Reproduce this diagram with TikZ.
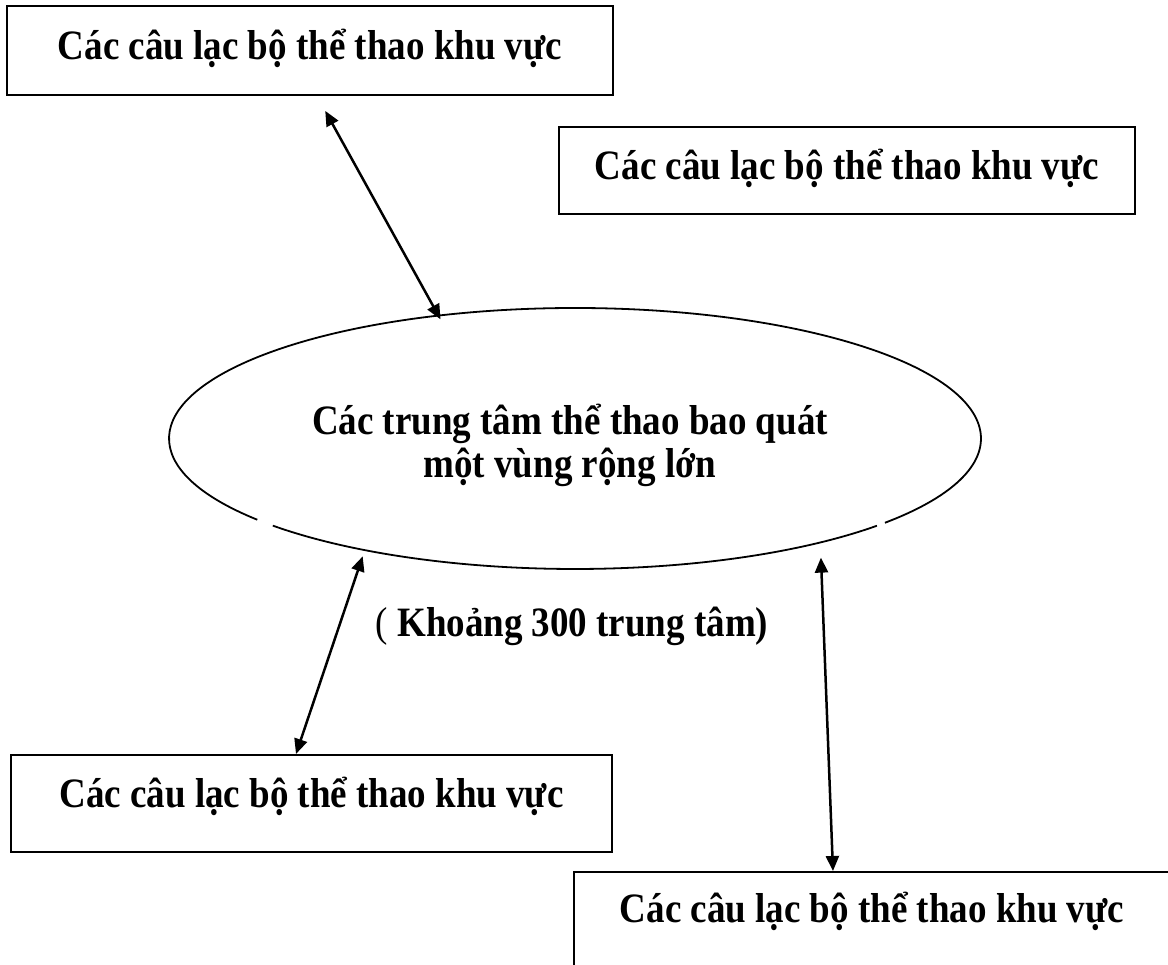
\documentclass[tikz,border=0pt]{standalone}
\usepackage{fontspec}
\setmainfont{Liberation Serif}
\usetikzlibrary{arrows.meta,shapes.geometric}
\newcommand{\stretchtxt}[1]{\scalebox{1}[1.13]{#1}}
\begin{document}
\begin{tikzpicture}[x=1pt,y=1pt,
  txt/.style={font=\fontsize{37}{43}\selectfont\bfseries},
  club/.style={draw, line width=2pt, rectangle, inner sep=0pt, txt, text height=26pt},
  ellipseline/.style={line width=1.8pt},
  link/.style={line width=2.5pt, {Triangle[length=15pt,width=13pt]}-{Triangle[length=15pt,width=13pt]}}]
\useasboundingbox (0,0) rectangle (1168,965);
\clip (0,0) rectangle (1168,965);

% boxes
\node[club, minimum width=606pt, minimum height=89pt, text depth=7pt] (B1) at (310,914.5) {\stretchtxt{Các câu lạc bộ thể thao khu vực}};
\node[club, minimum width=576pt, minimum height=87pt, text depth=7pt] (B2) at (847,794.5) {\stretchtxt{Các câu lạc bộ thể thao khu vực}};
\node[club, minimum width=601pt, minimum height=97pt, text depth=17pt] (B3) at (311.5,161.5) {\stretchtxt{Các câu lạc bộ thể thao khu vực}};
\node[club, minimum width=596pt, minimum height=97pt, text depth=21pt] (B4) at (872,44.5) {\stretchtxt{Các câu lạc bộ thể thao khu vực}};

% ellipse (outline drawn with two small gaps, as in the reference)
\node[ellipse, minimum width=812pt, minimum height=261pt, inner sep=0pt] (E) at (575,526.5) {};
\draw[ellipseline] (E.center) ++(319.77:406 and 130.5) arc[start angle=319.77, end angle=578.5, x radius=406, y radius=130.5];
\draw[ellipseline] (E.center) ++(221.9:406 and 130.5) arc[start angle=221.9, end angle=318.05, x radius=406, y radius=130.5];

\node[txt, anchor=base] (L1) at (570,530) {\stretchtxt{Các trung tâm thể thao bao quát}};
\node[txt, anchor=base] (L2) at (570,487) {\stretchtxt{một vùng rộng lớn}};
\node[txt, anchor=base] (K) at (572,328) {\stretchtxt{{\mdseries(} Khoảng 300 trung tâm)}};

% connectors
\draw[link, shorten <=17pt, shorten >=-4.5pt] ([xshift=7pt]B1.south) -- (E.138.84);
\draw[link, shorten >=6.35pt] ([xshift=-15.5pt]B3.north) -- (E.208.65);
\draw[link, shorten >=15pt] ([xshift=-39pt]B4.north) -- (E.337.3);
\end{tikzpicture}
\end{document}
